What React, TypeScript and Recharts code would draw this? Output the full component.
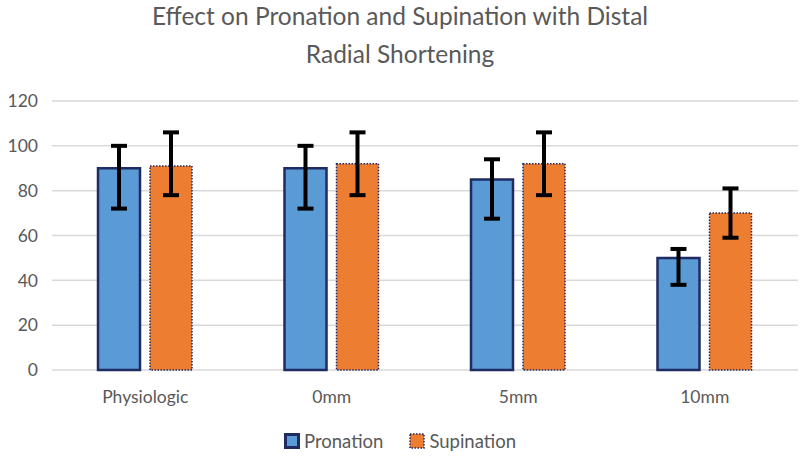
import React from 'react';
import { BarChart, Bar, XAxis, YAxis, CartesianGrid, ErrorBar } from 'recharts';

const categories = ['Physiologic', '0mm', '5mm', '10mm'];
const pronation = [90, 90, 85, 50];
const pronationLow = [72, 72, 67.5, 38];
const pronationHigh = [100, 100, 94, 54];
const supination = [91, 92, 92, 70];
const supinationLow = [78, 78, 78, 59];
const supinationHigh = [106, 106, 106, 81];
const yTicks = [0, 20, 40, 60, 80, 100, 120];

const data = categories.map((name, i) => ({
  name,
  pronation: pronation[i],
  pronationErr: [pronation[i] - pronationLow[i], pronationHigh[i] - pronation[i]],
  supination: supination[i],
  supinationErr: [supination[i] - supinationLow[i], supinationHigh[i] - supination[i]],
}));

const FONT = 'Lato, "Open Sans", sans-serif';
const GRAY = '#595959';
const NAVY = '#1F2B63';

const LegendBox = () => (
  <div style={{ position: 'absolute', top: 430, left: 0, width: 800, display: 'flex', justifyContent: 'center', gap: 26, fontFamily: FONT, fontSize: 18.5, color: GRAY }}>
    <span style={{ display: 'flex', alignItems: 'center' }}>
      <svg width={16} height={16} style={{ marginRight: 4 }}>
        <rect x={1.5} y={1.5} width={13} height={13} fill="#5B9BD5" stroke={NAVY} strokeWidth={3} />
      </svg>
      Pronation
    </span>
    <span style={{ display: 'flex', alignItems: 'center' }}>
      <svg width={16} height={16} style={{ marginRight: 4 }}>
        <rect x={1} y={1} width={14} height={14} fill="#ED7D31" stroke={NAVY} strokeWidth={1.5} strokeDasharray="1.5 1.5" />
      </svg>
      Supination
    </span>
  </div>
);

export default function App() {
  return (
    <div style={{ position: 'absolute', left: 0, top: 0, width: 800, height: 456, background: '#fff' }}>
      <div style={{ position: 'absolute', top: -3, left: 0, width: 800, textAlign: 'center', fontFamily: FONT, fontSize: 24.5, lineHeight: '38px', color: GRAY }}>
        Effect on Pronation and Supination with Distal
        <br />
        Radial Shortening
      </div>
      <BarChart width={800} height={456} data={data} margin={{ top: 101, right: 2, left: 0, bottom: 56 }} barGap={10}>
        <CartesianGrid vertical={false} stroke="#d9d9d9" strokeWidth={1.5} />
        <XAxis dataKey="name" axisLine={false} tickLine={false} tickSize={0} tickMargin={21} height={30} tick={{ fill: GRAY, fontFamily: FONT, fontSize: 17.5 }} />
        <YAxis domain={[0, 120]} ticks={yTicks} axisLine={false} tickLine={false} tickSize={0} tickMargin={14} width={52} tick={{ fill: GRAY, fontFamily: FONT, fontSize: 17.5 }} />
        <Bar dataKey="pronation" fill="#5B9BD5" stroke={NAVY} strokeWidth={2.5} barSize={42} isAnimationActive={false}>
          <ErrorBar dataKey="pronationErr" stroke="#000" strokeWidth={4} width={8} />
        </Bar>
        <Bar dataKey="supination" fill="#ED7D31" stroke={NAVY} strokeWidth={1.5} strokeDasharray="1.5 1.5" barSize={42} isAnimationActive={false}>
          <ErrorBar dataKey="supinationErr" stroke="#000" strokeWidth={4} width={8} />
        </Bar>
      </BarChart>
      <LegendBox />
    </div>
  );
}
